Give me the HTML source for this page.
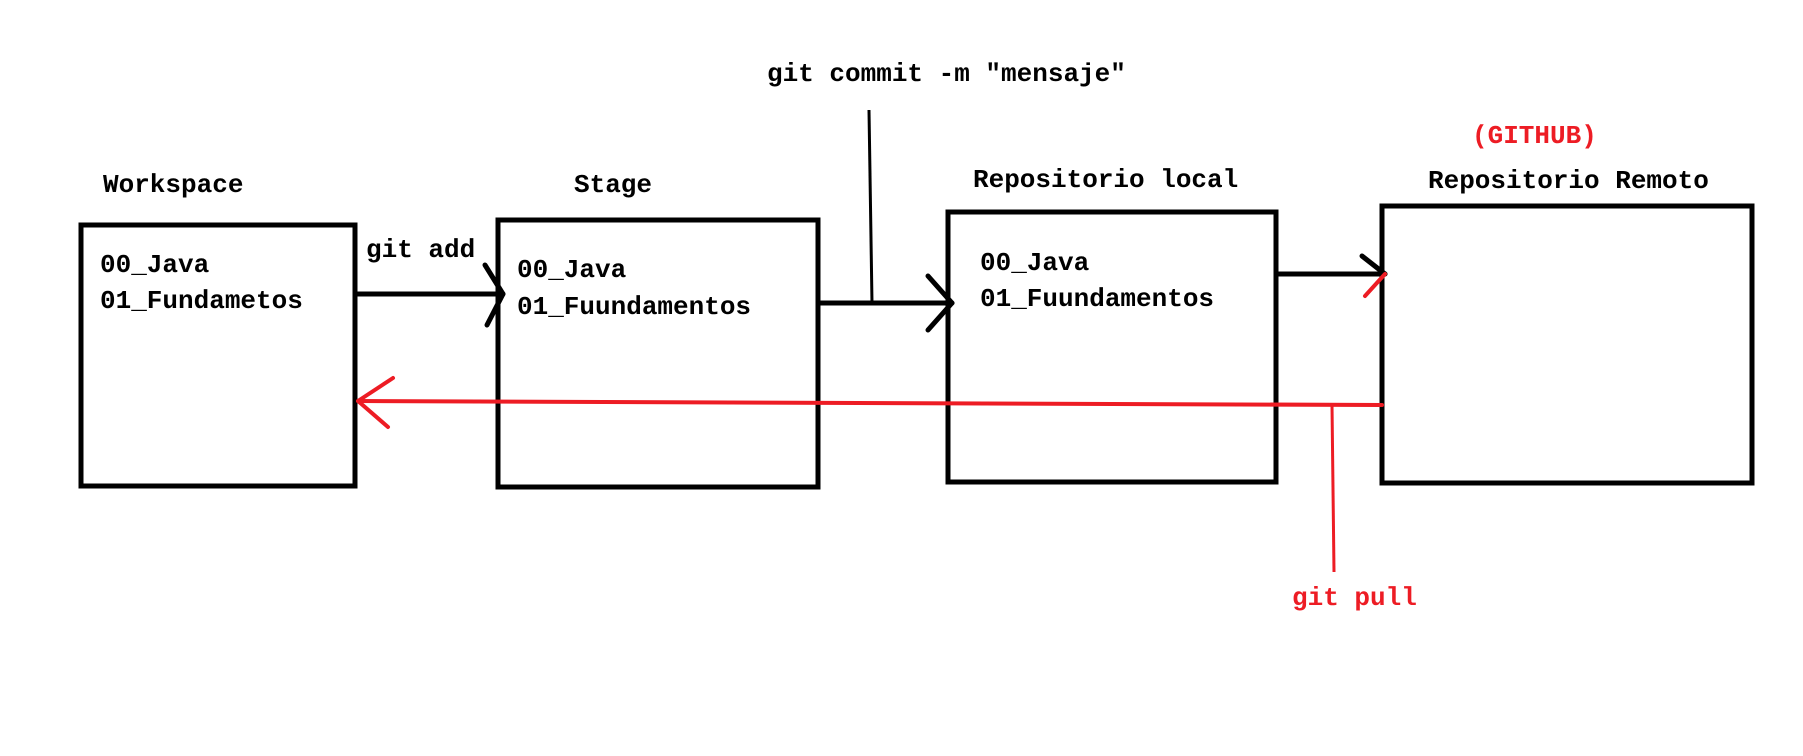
<!DOCTYPE html>
<html><head><style>
html,body{margin:0;padding:0;background:#fff;}
svg{display:block;}
text{font-family:"Liberation Mono",monospace;font-weight:bold;font-size:26px;}
</style></head><body>
<svg width="1803" height="756" viewBox="0 0 1803 756" xmlns="http://www.w3.org/2000/svg">
<g fill="none" stroke="#000" stroke-width="5">
<rect x="81" y="225" width="274" height="261"/>
<rect x="498" y="220" width="320" height="267"/>
<rect x="948" y="212" width="328" height="270"/>
<rect x="1382" y="206" width="370" height="277"/>
</g>
<g fill="none" stroke="#000" stroke-width="5" stroke-linecap="round" stroke-linejoin="round">
<line x1="355" y1="294" x2="503" y2="294"/>
<polyline points="485,265 503,294 487,325"/>
<line x1="818" y1="303" x2="952" y2="303"/>
<polyline points="928,276 952,303 928,330"/>
<line x1="1276" y1="274" x2="1385" y2="274"/>
<polyline points="1362,256 1385,274"/>
</g>
<line x1="869" y1="110" x2="872" y2="303" stroke="#000" stroke-width="3"/>
<g fill="none" stroke="#ed1c24" stroke-width="4" stroke-linecap="round" stroke-linejoin="round">
<line x1="1382" y1="405" x2="358" y2="401"/>
<polyline points="393,378 358,401 388,427"/>
<line x1="1385" y1="274" x2="1365" y2="296"/>
</g>
<line x1="1332" y1="405" x2="1334" y2="572" stroke="#ed1c24" stroke-width="3"/>
<g fill="#000">
<text x="103" y="192">Workspace</text>
<text x="574" y="192">Stage</text>
<text x="973" y="187">Repositorio local</text>
<text x="1428" y="188">Repositorio Remoto</text>
<text x="767" y="81">git commit -m "mensaje"</text>
<text x="366" y="257">git add</text>
<text x="100" y="272">00_Java</text>
<text x="100" y="308">01_Fundametos</text>
<text x="517" y="277">00_Java</text>
<text x="517" y="314">01_Fuundamentos</text>
<text x="980" y="270">00_Java</text>
<text x="980" y="306">01_Fuundamentos</text>
</g>
<g fill="#ed1c24">
<text x="1472" y="143">(GITHUB)</text>
<text x="1292" y="605">git pull</text>
</g>
</svg>
</body></html>
